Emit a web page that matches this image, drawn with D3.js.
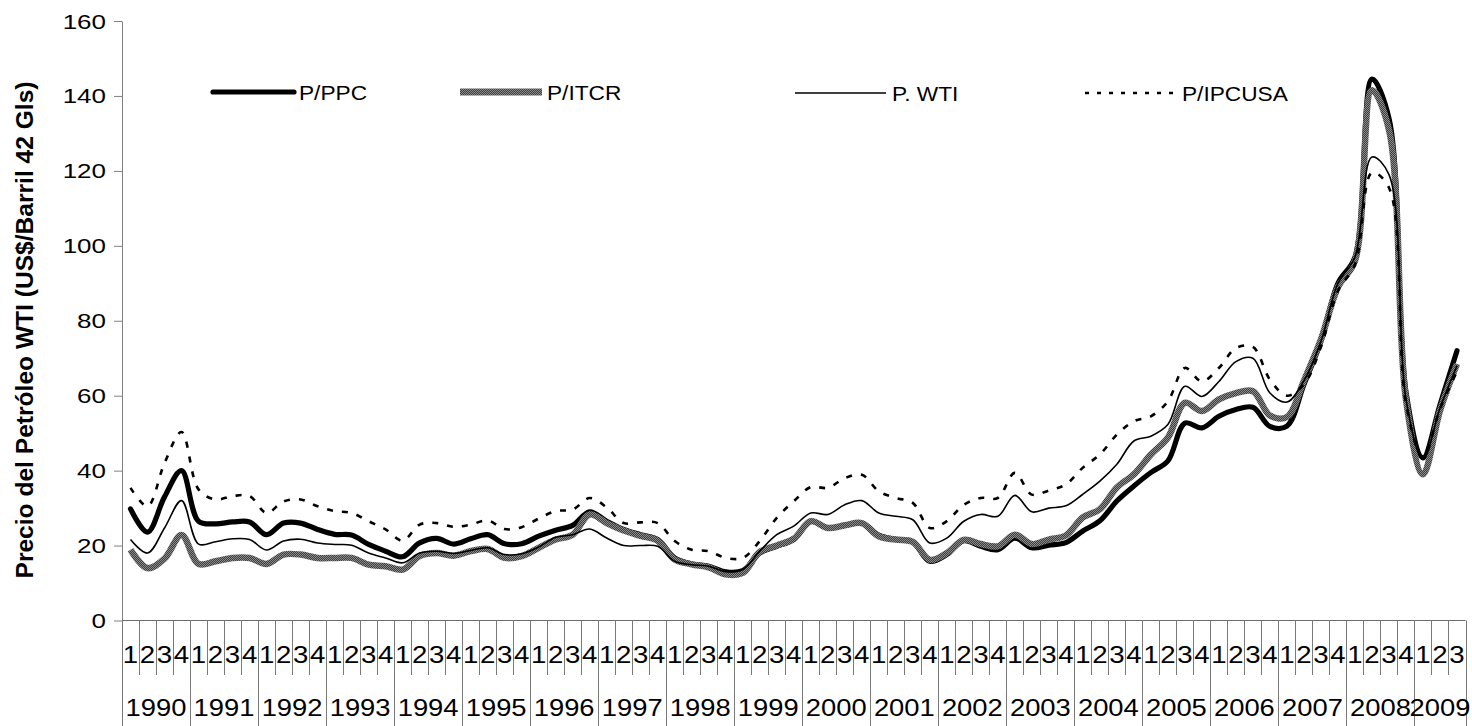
<!DOCTYPE html>
<html lang="es">
<head>
<meta charset="utf-8">
<title>Precio del Petróleo WTI</title>
<script src="https://cdn.jsdelivr.net/npm/d3@7"></script>
<style>
  html, body { margin: 0; padding: 0; background: #fff; }
  svg { display: block; font-family: "Liberation Sans", Arial, sans-serif; }
</style>
</head>
<body>
<svg id="chart" width="1472" height="726"></svg>
<script>
// Quarterly series, 1990Q1 – 2009Q3 (US$ per barrel)
const years = [1990,1991,1992,1993,1994,1995,1996,1997,1998,1999,2000,2001,2002,2003,2004,2005,2006,2007,2008,2009];
const quarterLabels = ["1","2","3","4"];
const yTicks = [0,20,40,60,80,100,120,140,160];

const pPPC = [
  29.8,23.6,33.0,40.0, 26.5,25.8,26.3,26.3, 22.9,26.0,26.0,24.3, 23.0,22.8,20.3,18.5,
  17.0,20.7,21.9,20.4, 21.8,22.9,20.5,20.5, 22.5,24.1,25.4,29.0, 26.5,24.3,22.9,21.6,
  16.7,15.1,14.5,13.0, 13.3,18.0,19.8,21.6, 26.5,24.7,25.4,26.0, 22.8,21.6,20.9,15.8,
  17.6,21.3,19.8,18.9, 22.0,19.4,20.1,20.8, 23.9,26.6,31.9,35.9, 39.5,42.6,52.7,51.4,
  54.5,56.3,56.9,51.8, 51.9,63.0,74.5,90.0, 97.0,144.5,134.0,61.0, 43.4,57.6,72.0
];
const pITCR = [
  18.9,14.0,16.5,22.8, 15.1,15.8,16.7,16.7, 15.1,17.6,17.6,16.7, 16.7,16.7,14.9,14.5,
  13.6,17.2,18.0,17.3, 18.5,19.1,16.7,17.2, 19.4,21.6,22.9,28.3, 26.0,24.0,22.6,21.3,
  16.3,15.0,14.2,12.3, 12.7,18.3,20.0,21.8, 26.5,24.7,25.4,26.0, 22.5,21.6,21.0,16.2,
  18.0,21.5,20.4,19.8, 22.9,20.4,21.6,22.7, 27.5,29.7,35.5,39.0, 44.3,48.8,58.1,55.9,
  59.0,60.7,61.2,54.7, 54.3,64.0,75.0,89.0, 96.0,141.5,131.0,59.0, 39.0,56.0,68.5
];
const pWTI = [
  21.6,18.0,24.7,32.0, 20.4,21.0,21.8,21.6, 18.8,21.2,21.7,20.7, 20.3,20.1,18.0,16.7,
  15.4,18.0,18.5,17.9, 18.7,19.4,17.6,17.8, 19.6,22.2,22.9,24.4, 22.0,20.0,20.0,19.8,
  15.8,14.9,14.5,13.0, 13.6,18.5,22.9,25.2, 28.7,28.3,30.9,32.0, 28.7,27.8,26.9,20.7,
  22.0,26.5,28.3,27.8, 33.4,29.0,30.0,30.6, 33.7,37.2,41.7,47.9, 49.2,52.3,62.5,59.8,
  63.8,69.1,70.0,60.7, 58.3,64.0,74.5,90.0, 97.0,123.7,119.0,59.0, 43.0,56.7,68.0
];
const pIPCUSA = [
  35.4,30.5,42.0,50.3, 35.0,32.3,33.2,33.2, 28.7,31.8,32.3,30.5, 29.2,28.7,26.5,24.3,
  21.3,25.6,26.0,25.0, 25.6,26.7,24.4,24.9, 27.2,29.2,29.6,32.7, 30.2,26.0,26.2,26.0,
  21.2,18.9,18.5,16.7, 16.7,21.2,27.4,31.8, 35.6,35.4,38.0,38.9, 34.5,32.7,31.4,24.7,
  26.5,30.9,32.7,32.7, 39.4,33.6,34.7,36.3, 40.8,44.3,49.6,53.2, 54.5,58.5,67.4,63.8,
  67.4,72.7,73.0,64.3, 60.0,63.0,73.0,88.0, 95.0,119.5,115.5,58.0, 43.5,56.5,66.5
];

const periods = years.flatMap(yr => quarterLabels.map(q => ({ year: yr, q }))).slice(0, pWTI.length);

const series = [
  { name: "P/PPC",    values: pPPC,    stroke: "#000", width: 5.2, dash: null,  cap: "round" },
  { name: "P/ITCR",   values: pITCR,   stroke: "url(#hatch)", width: 6.5, dash: null, cap: "butt" },
  { name: "P. WTI",   values: pWTI,    stroke: "#000", width: 1.6, dash: null,  cap: "butt" },
  { name: "P/IPCUSA", values: pIPCUSA, stroke: "#000", width: 2.6, dash: "6,9", cap: "butt" }
];

const svg = d3.select("#chart");
const plotLeft = 122, plotRight = 1465.5, plotTop = 21, plotBottom = 620.5;

// fine grey texture used by the P/ITCR line
const defs = svg.append("defs");
const pat = defs.append("pattern").attr("id", "hatch").attr("patternUnits", "userSpaceOnUse")
  .attr("width", 2).attr("height", 2);
pat.append("rect").attr("width", 2).attr("height", 2).attr("fill", "#3f3f3f");
pat.append("rect").attr("x", 0).attr("y", 0).attr("width", 1).attr("height", 1).attr("fill", "#8a8a8a");
pat.append("rect").attr("x", 1).attr("y", 1).attr("width", 1).attr("height", 1).attr("fill", "#8a8a8a");

const x = d3.scaleBand().domain(d3.range(periods.length)).range([plotLeft, plotRight]).paddingInner(0).paddingOuter(0);
const y = d3.scaleLinear().domain([0, 160]).range([plotBottom, plotTop]);
const cx = i => x(i) + x.bandwidth() / 2;

// Y axis
const yAxis = svg.append("g").attr("transform", `translate(${plotLeft},0)`)
  .call(d3.axisLeft(y).tickValues(yTicks).tickSize(8).tickSizeOuter(0));
yAxis.select(".domain").attr("stroke", "#808080");
yAxis.selectAll(".tick line").attr("stroke", "#808080");
yAxis.selectAll(".tick text")
  .attr("x", null).attr("dy", "0.35em")
  .attr("transform", "translate(-16,0) scale(1.3,1)")
  .attr("font-size", 20).attr("fill", "#000")
  .attr("font-family", "'Liberation Sans', Arial, sans-serif");

// Y axis title
svg.append("text")
  .attr("transform", "translate(33,330) rotate(-90)")
  .attr("text-anchor", "middle")
  .attr("font-size", 23).attr("font-weight", "bold")
  .attr("textLength", 497).attr("lengthAdjust", "spacingAndGlyphs")
  .text("Precio del Petróleo WTI (US$/Barril 42 Gls)");

// X axis: quarter labels, quarter and year separators
const xg = svg.append("g");
xg.append("line").attr("x1", plotLeft).attr("x2", plotRight).attr("y1", plotBottom).attr("y2", plotBottom)
  .attr("stroke", "#6e6e6e").attr("stroke-width", 1.2);
const bounds = d3.range(periods.length + 1);
const bx = i => Math.round(i < periods.length ? x(i) : plotRight) + 0.5;
xg.selectAll("line.sep").data(bounds).join("line").attr("class", "sep")
  .attr("x1", bx).attr("x2", bx)
  .attr("y1", plotBottom)
  .attr("y2", i => (i % 4 === 0 || i === periods.length) ? 726 : 675)
  .attr("stroke", "#7a7a7a").attr("stroke-width", 1);
xg.selectAll("text.q").data(periods).join("text").attr("class", "q")
  .attr("transform", (d, i) => `translate(${cx(i)},663) scale(1.15,1)`)
  .attr("text-anchor", "middle").attr("font-size", 24)
  .text(d => d.q);
xg.selectAll("text.yr").data(years).join("text").attr("class", "yr")
  .attr("transform", (yr, k) => {
    const first = k * 4;
    const last = Math.min(first + 3, periods.length - 1);
    const mid = (x(first) + x(last) + x.bandwidth()) / 2;
    return `translate(${mid},716) scale(1.14,1)`;
  })
  .attr("text-anchor", "middle").attr("font-size", 24)
  .text(d => d);

// Lines
const line = d3.line().x((d, i) => cx(i)).y(d => y(d)).curve(d3.curveCatmullRom.alpha(0.5));
svg.append("g").selectAll("path").data(series).join("path")
  .attr("d", s => line(s.values))
  .attr("fill", "none")
  .attr("stroke", s => s.stroke)
  .attr("stroke-width", s => s.width)
  .attr("stroke-linejoin", "round")
  .attr("stroke-linecap", s => s.cap)
  .attr("stroke-dasharray", s => s.dash);

// Legend
const legendPos = [
  { x1: 213, x2: 294, ty: 92, tx: 299 },
  { x1: 460, x2: 542, ty: 92, tx: 547 },
  { x1: 795, x2: 886, ty: 93, tx: 892 },
  { x1: 1085, x2: 1176, ty: 93, tx: 1182 }
];
const lg = svg.append("g").selectAll("g").data(series).join("g");
lg.append("line")
  .attr("x1", (s, i) => legendPos[i].x1).attr("x2", (s, i) => legendPos[i].x2)
  .attr("y1", (s, i) => legendPos[i].ty).attr("y2", (s, i) => legendPos[i].ty)
  .attr("stroke", s => s.stroke)
  .attr("stroke-width", s => s.name === "P/ITCR" ? 7 : s.width)
  .attr("stroke-linecap", s => s.cap)
  .attr("stroke-dasharray", s => s.dash ? "4,8" : null);
lg.append("text")
  .attr("transform", (s, i) => `translate(${legendPos[i].tx},${legendPos[i].ty + 7.5}) scale(1.08,1)`)
  .attr("font-size", 21)
  .text(s => s.name);
</script>
</body>
</html>
